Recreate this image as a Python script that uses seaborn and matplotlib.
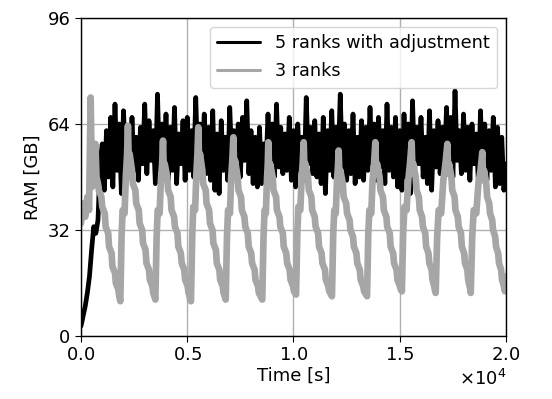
import numpy as np
import pandas as pd
import matplotlib
matplotlib.use("Agg")
import matplotlib.pyplot as plt
from matplotlib.lines import Line2D
import seaborn as sns

# ---- data: "5 ranks with adjustment" (sampled every 100 s) ----
adj_time = np.arange(0, 20001, 100)
adj_ram = [
    3, 6, 9, 13, 18, 26, 33, 31, 35, 52,
    58, 44, 62, 48, 66, 45, 70, 50, 64, 43,
    68, 52, 62, 48, 66, 50, 60, 47, 63, 52,
    70, 49, 65, 53, 62, 46, 73, 50, 64, 48,
    67, 47, 63, 50, 69, 46, 61, 52, 65, 47,
    66, 50, 62, 48, 72, 51, 64, 53, 67, 49,
    63, 47, 68, 44, 61, 43, 65, 50, 60, 47,
    69, 52, 62, 50, 64, 48, 66, 53, 71, 49,
    62, 46, 60, 45, 63, 46, 58, 50, 67, 52,
    64, 48, 70, 51, 63, 49, 61, 50, 66, 47,
    62, 45, 64, 50, 60, 47, 72, 52, 63, 49,
    65, 48, 61, 46, 66, 43, 62, 50, 68, 48,
    63, 52, 73, 50, 64, 47, 62, 49, 67, 46,
    60, 48, 65, 47, 63, 50, 69, 52, 64, 47,
    66, 51, 62, 46, 70, 50, 63, 48, 66, 45,
    62, 44, 67, 48, 64, 43, 71, 50, 63, 52,
    66, 48, 60, 46, 68, 44, 62, 51, 65, 49,
    63, 50, 69, 52, 66, 48, 74, 53, 62, 49,
    67, 50, 63, 47, 64, 52, 61, 46, 68, 48,
    64, 47, 62, 50, 66, 45, 63, 46, 60, 44,
    52,
]

# ---- data: "3 ranks" (sawtooth) ----
r3_time = [
    0, 100, 200, 300, 380, 455, 520, 600, 680, 730, 800, 840, 960, 1000,
    1120, 1160, 1280, 1320, 1440, 1480, 1600, 1640, 1760, 1800,
    1850, 1910, 1960, 2050, 2110, 2170, 2210, 2250, 2290, 2400, 2440, 2560,
    2600, 2720, 2760, 2880, 2920, 3040, 3080, 3200, 3240, 3360, 3400,
    3500, 3560, 3610, 3700, 3760, 3820, 3860, 3900, 3940, 4060, 4100, 4220,
    4260, 4380, 4420, 4540, 4580, 4700, 4740, 4860, 4900, 5020, 5060,
    5175, 5235, 5285, 5370, 5430, 5480, 5520, 5560, 5600, 5710, 5750, 5870,
    5910, 6030, 6070, 6190, 6230, 6350, 6390, 6510, 6550, 6670, 6710,
    6810, 6870, 6920, 7010, 7070, 7120, 7170, 7210, 7250, 7370, 7410, 7530,
    7570, 7690, 7730, 7850, 7890, 8010, 8050, 8170, 8210, 8330, 8370,
    8530, 8590, 8640, 8700, 8750, 8790, 8815, 8860, 8900, 9020, 9060, 9180,
    9220, 9340, 9380, 9500, 9540, 9660, 9700, 9820, 9860, 9980, 10020,
    10120, 10180, 10230, 10320, 10380, 10430, 10480, 10520, 10560, 10680, 10720, 10840,
    10880, 11000, 11040, 11160, 11200, 11320, 11360, 11480, 11520, 11640, 11680,
    11810, 11870, 11920, 11990, 12040, 12090, 12125, 12165, 12205, 12320, 12360, 12480,
    12520, 12640, 12680, 12800, 12840, 12960, 13000, 13120, 13160, 13280, 13320,
    13460, 13520, 13570, 13660, 13720, 13790, 13850, 13890, 13930, 14050, 14090, 14210,
    14250, 14370, 14410, 14530, 14570, 14690, 14730, 14850, 14890, 15010, 15050,
    15100, 15160, 15220, 15320, 15400, 15480, 15560, 15600, 15640, 15750, 15790, 15900,
    15940, 16050, 16090, 16200, 16240, 16350, 16390, 16500, 16540, 16620, 16650,
    16690, 16760, 16830, 16950, 17050, 17150, 17240, 17280, 17320, 17430, 17470, 17580,
    17620, 17730, 17770, 17880, 17920, 18030, 18070, 18180, 18220, 18290, 18320,
    18340, 18410, 18480, 18600, 18700, 18800, 18885, 18925, 18965, 19070, 19110, 19210,
    19250, 19350, 19390, 19490, 19530, 19630, 19670, 19770, 19810, 19900, 19950, 20000,
]
r3_ram = [
    34, 40, 36, 42, 38, 72, 45, 50, 58, 48, 46, 44, 42, 39,
    37, 33, 31, 27, 25, 21, 19, 16, 14, 12,
    10.5, 30, 38, 37, 48, 55, 63.5, 52, 55, 50, 46, 44,
    40, 38, 34, 32, 28, 26, 22, 20, 17, 15, 13,
    11, 30, 38, 37, 47, 52, 59, 49, 52, 48, 44, 42,
    38, 36, 33, 31, 27, 25, 22, 20, 17, 15, 13,
    10.5, 30, 39, 38, 49, 55, 63, 52, 55, 50, 46, 44,
    40, 38, 34, 32, 28, 26, 22, 20, 17, 15, 13,
    11, 30, 38, 37, 48, 53, 60, 50, 53, 48, 44, 42,
    38, 36, 33, 31, 27, 25, 22, 20, 17, 15, 13,
    11, 30, 38, 37, 47, 52, 58.5, 49, 52, 48, 44, 42,
    38, 36, 33, 31, 27, 25, 22, 20, 17, 15, 13.5,
    12.5, 31, 39, 38, 47, 52, 58.5, 49, 52, 48, 44, 42,
    38, 36, 33, 31, 27, 25, 22, 20, 17, 15, 13.5,
    12, 31, 38, 37, 46, 51, 56, 47, 50, 46, 42, 40,
    37, 35, 32, 30, 27, 25, 22, 20, 17, 15, 13.5,
    12, 31, 38, 37, 47, 52, 58.5, 49, 52, 48, 44, 42,
    38, 36, 33, 31, 27, 25, 22, 20, 17, 15, 14,
    13.5, 31, 39, 38, 47, 52, 58.5, 49, 52, 48, 44, 42,
    38, 36, 33, 31, 27, 25, 22, 20, 17, 15, 14,
    13, 30, 38, 37, 47, 52, 58, 49, 52, 48, 44, 42,
    38, 36, 33, 31, 27, 25, 22, 20, 17, 15, 14,
    13, 30, 38, 37, 46, 50, 55.5, 47, 50, 46, 42, 40,
    37, 35, 32, 30, 27, 25, 22, 20, 17, 15, 13.5, 18,
]

labels = ["5 ranks with adjustment", "3 ranks"]
y_ticks = [0, 32, 64, 96]
x_ticks = [0, 5000, 10000, 15000, 20000]

assert len(adj_time) == len(adj_ram), (len(adj_time), len(adj_ram))
assert len(r3_time) == len(r3_ram), (len(r3_time), len(r3_ram))

sns.set_style("ticks")
plt.rcParams["font.family"] = ["DejaVu Sans"]
plt.rcParams.update({"text.color": "black", "axes.labelcolor": "black",
                     "xtick.color": "black", "ytick.color": "black"})
FS = 13.0
LFS = 12.7
GRAY = "#a6a6a6"

fig = plt.figure(figsize=(5.52, 3.99), dpi=100)
ax = fig.add_axes([0.1467, 0.1579, 0.7700, 0.7970])

sns.lineplot(x=adj_time, y=adj_ram, ax=ax, color="black", lw=3.4,
             estimator=None, sort=False)
sns.lineplot(x=r3_time, y=r3_ram, ax=ax, color=GRAY, lw=4.8,
             estimator=None, sort=False)

ax.set_xlim(0, 20000)
ax.set_ylim(0, 96)
ax.set_yticks(y_ticks)
ax.set_xticks(x_ticks)
ax.ticklabel_format(axis="x", style="sci", scilimits=(0, 0), useMathText=True)
ax.xaxis.get_offset_text().set_fontsize(FS)
ax.grid(True, color="#b0b0b0", lw=1.0)
for s in ax.spines.values():
    s.set_color("black")
    s.set_linewidth(1.0)
ax.tick_params(labelsize=FS, color="black", length=4)
ax.set_xlabel("Time [s]", fontsize=FS, labelpad=2)
ax.set_ylabel("RAM [GB]", fontsize=FS, labelpad=4)

handles = [Line2D([], [], color="black", lw=2.2),
           Line2D([], [], color=GRAY, lw=2.2)]
ax.legend(handles, labels, loc="upper right", fontsize=LFS, frameon=True,
          borderaxespad=0.5, handlelength=2.4, handletextpad=0.9,
          labelspacing=0.6)

fig.savefig("out.png", dpi=100)
